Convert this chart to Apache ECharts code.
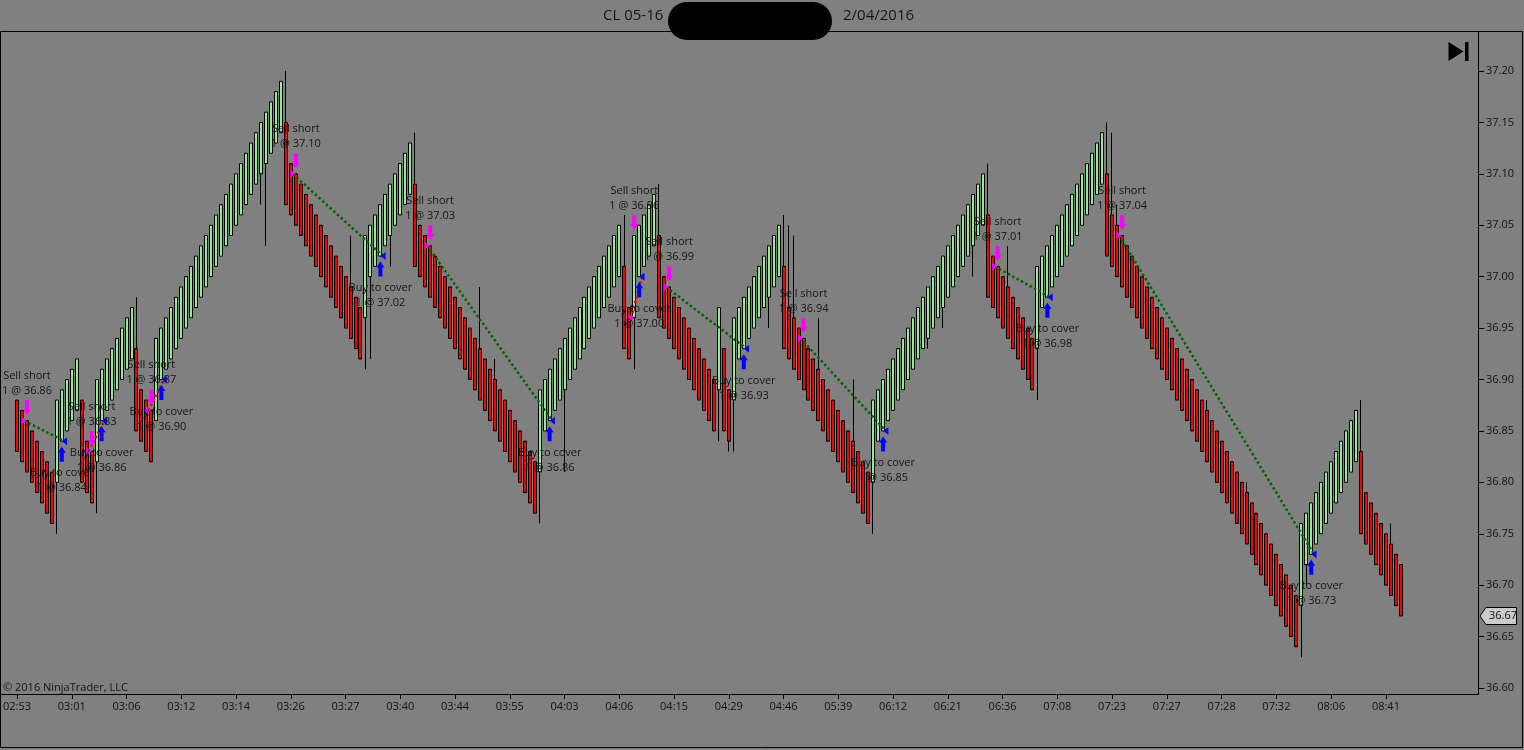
<!DOCTYPE html>
<html>
<head>
<meta charset="utf-8">
<script src="https://cdn.jsdelivr.net/npm/echarts@6/dist/echarts.min.js"></script>
<style>
    html, body { margin: 0; padding: 0; background: #808080; }
    #chart { width: 1524px; height: 750px; }
</style>
</head>
<body>
<div id="chart"></div>
<script>
// time labels under the ticks (one every 11 bars)
var tickLabels = ['02:53', '03:01', '03:06', '03:12', '03:14', '03:26', '03:27', '03:40', '03:44', '03:55',
    '04:03', '04:06', '04:15', '04:29', '04:46', '05:39', '06:12', '06:21', '06:36', '07:08',
    '07:23', '07:27', '07:28', '07:32', '08:06', '08:41'];

// bar opens, one per brick
var opens = [
    36.88, 36.87, 36.86, 36.85, 36.84, 36.83, 36.82, 36.81,
    36.80, 36.84, 36.85, 36.86, 36.87,
    36.88, 36.84, 36.83,
    36.82, 36.86, 36.87, 36.88, 36.89, 36.90, 36.91, 36.92,
    36.93, 36.89, 36.88, 36.87,
    36.86, 36.90, 36.91, 36.92, 36.93, 36.94, 36.95, 36.96, 36.97, 36.98, 36.99, 37.00, 37.01, 37.02, 37.03, 37.04,
    37.05, 37.06, 37.07, 37.08, 37.09, 37.10, 37.11, 37.12, 37.13, 37.14,
    37.15, 37.11, 37.10, 37.09, 37.08, 37.07, 37.06, 37.05, 37.04, 37.03, 37.02, 37.01, 37.00, 36.99, 36.98, 36.97,
    36.96, 37.00, 37.01, 37.02, 37.03, 37.04, 37.05, 37.06, 37.07, 37.08,
    37.09, 37.05, 37.04, 37.03, 37.02, 37.01, 37.00, 36.99, 36.98, 36.97, 36.96, 36.95, 36.94, 36.93, 36.92, 36.91,
    36.90, 36.89, 36.88, 36.87, 36.86, 36.85, 36.84, 36.83, 36.82,
    36.81, 36.85, 36.86, 36.87, 36.88, 36.89, 36.90, 36.91, 36.92, 36.93, 36.94, 36.95, 36.96, 36.97, 36.98, 36.99, 37.00,
    37.01, 36.97,
    36.96, 37.00, 37.01, 37.02, 37.03,
    37.04, 37.00, 36.99, 36.98, 36.97, 36.96, 36.95, 36.94, 36.93, 36.92, 36.91, 36.90,
    36.89,
    36.93, 36.89,
    36.88, 36.92, 36.93, 36.94, 36.95, 36.96, 36.97, 36.98, 36.99, 37.00,
    37.01, 36.97, 36.96, 36.95, 36.94, 36.93, 36.92, 36.91, 36.90, 36.89, 36.88, 36.87, 36.86, 36.85, 36.84, 36.83, 36.82, 36.81,
    36.80, 36.84, 36.85, 36.86, 36.87, 36.88, 36.89, 36.90, 36.91, 36.92, 36.93, 36.94, 36.95, 36.96, 36.97, 36.98,
    36.99, 37.00, 37.01, 37.02, 37.03, 37.04, 37.05,
    37.06, 37.02, 37.01, 37.00, 36.99, 36.98, 36.97, 36.96, 36.95, 36.94,
    36.93, 36.97, 36.98, 36.99, 37.00, 37.01, 37.02, 37.03, 37.04, 37.05, 37.06, 37.07, 37.08, 37.09,
    37.10, 37.06, 37.05, 37.04, 37.03, 37.02, 37.01, 37.00, 36.99, 36.98, 36.97, 36.96, 36.95, 36.94, 36.93, 36.92,
    36.91, 36.90, 36.89, 36.88, 36.87, 36.86, 36.85, 36.84, 36.83, 36.82, 36.81, 36.80, 36.79, 36.78, 36.77, 36.76,
    36.75, 36.74, 36.73, 36.72, 36.71, 36.70, 36.69,
    36.68, 36.72, 36.73, 36.74, 36.75, 36.76, 36.77, 36.78, 36.79, 36.80, 36.81, 36.82,
    36.83, 36.79, 36.78, 36.77, 36.76, 36.75, 36.74, 36.73, 36.72
];

// bar closes
var closes = [
    36.83, 36.82, 36.81, 36.80, 36.79, 36.78, 36.77, 36.76,
    36.88, 36.89, 36.90, 36.91, 36.92,
    36.80, 36.79, 36.78,
    36.90, 36.91, 36.92, 36.93, 36.94, 36.95, 36.96, 36.97,
    36.85, 36.84, 36.83, 36.82,
    36.94, 36.95, 36.96, 36.97, 36.98, 36.99, 37.00, 37.01, 37.02, 37.03, 37.04, 37.05, 37.06, 37.07, 37.08, 37.09,
    37.10, 37.11, 37.12, 37.13, 37.14, 37.15, 37.16, 37.17, 37.18, 37.19,
    37.07, 37.06, 37.05, 37.04, 37.03, 37.02, 37.01, 37.00, 36.99, 36.98, 36.97, 36.96, 36.95, 36.94, 36.93, 36.92,
    37.04, 37.05, 37.06, 37.07, 37.08, 37.09, 37.10, 37.11, 37.12, 37.13,
    37.01, 37.00, 36.99, 36.98, 36.97, 36.96, 36.95, 36.94, 36.93, 36.92, 36.91, 36.90, 36.89, 36.88, 36.87, 36.86,
    36.85, 36.84, 36.83, 36.82, 36.81, 36.80, 36.79, 36.78, 36.77,
    36.89, 36.90, 36.91, 36.92, 36.93, 36.94, 36.95, 36.96, 36.97, 36.98, 36.99, 37.00, 37.01, 37.02, 37.03, 37.04, 37.05,
    36.93, 36.92,
    37.04, 37.05, 37.06, 37.07, 37.08,
    36.96, 36.95, 36.94, 36.93, 36.92, 36.91, 36.90, 36.89, 36.88, 36.87, 36.86, 36.85,
    36.97,
    36.85, 36.84,
    36.96, 36.97, 36.98, 36.99, 37.00, 37.01, 37.02, 37.03, 37.04, 37.05,
    36.93, 36.92, 36.91, 36.90, 36.89, 36.88, 36.87, 36.86, 36.85, 36.84, 36.83, 36.82, 36.81, 36.80, 36.79, 36.78, 36.77, 36.76,
    36.88, 36.89, 36.90, 36.91, 36.92, 36.93, 36.94, 36.95, 36.96, 36.97, 36.98, 36.99, 37.00, 37.01, 37.02, 37.03,
    37.04, 37.05, 37.06, 37.07, 37.08, 37.09, 37.10,
    36.98, 36.97, 36.96, 36.95, 36.94, 36.93, 36.92, 36.91, 36.90, 36.89,
    37.01, 37.02, 37.03, 37.04, 37.05, 37.06, 37.07, 37.08, 37.09, 37.10, 37.11, 37.12, 37.13, 37.14,
    37.02, 37.01, 37.00, 36.99, 36.98, 36.97, 36.96, 36.95, 36.94, 36.93, 36.92, 36.91, 36.90, 36.89, 36.88, 36.87,
    36.86, 36.85, 36.84, 36.83, 36.82, 36.81, 36.80, 36.79, 36.78, 36.77, 36.76, 36.75, 36.74, 36.73, 36.72, 36.71,
    36.70, 36.69, 36.68, 36.67, 36.66, 36.65, 36.64,
    36.76, 36.77, 36.78, 36.79, 36.80, 36.81, 36.82, 36.83, 36.84, 36.85, 36.86, 36.87,
    36.75, 36.74, 36.73, 36.72, 36.71, 36.70, 36.69, 36.68, 36.67
];

// wick extremes that go past the body: [bar, low, high]
var wicks = [
    [8, 36.75, null], [16, 36.77, null], [24, null, 36.98], [49, 37.07, null], [50, 37.03, null],
    [54, null, 37.20], [67, null, 37.04], [70, 36.91, null], [71, 36.92, null], [75, 37.01, null],
    [80, null, 37.14], [93, null, 36.99], [96, null, 36.92], [105, 36.76, null], [110, 36.81, null],
    [122, null, 37.06], [124, 36.91, null], [129, null, 37.09], [141, 36.84, null], [143, 36.83, null],
    [144, 36.83, null], [151, 36.95, null], [154, null, 37.06], [155, null, 37.05], [156, null, 37.04],
    [161, null, 36.96], [168, null, 36.90], [172, 36.75, null], [183, 36.93, null], [186, 36.95, null],
    [192, 37.00, null], [195, null, 37.11], [199, null, 37.03], [205, 36.88, null], [219, null, 37.15],
    [220, null, 37.14], [221, null, 37.07], [239, null, 36.88], [247, null, 36.80], [258, 36.63, null],
    [259, 36.70, null], [270, null, 36.88], [276, null, 36.76]
];

// trades: sell short entry and buy to cover exit
var entryBar = [2, 15, 27, 56, 83, 124, 131, 158, 197, 222];
var entryPrice = [36.86, 36.83, 36.87, 37.10, 37.03, 36.96, 36.99, 36.94, 37.01, 37.04];
var exitBar = [9, 17, 29, 73, 107, 125, 146, 174, 207, 260];
var exitPrice = [36.84, 36.86, 36.90, 37.02, 36.86, 37.00, 36.93, 36.85, 36.98, 36.73];

var FONT = '"Open Sans", "Noto Sans", sans-serif';
var SLOTS = 294;

var chart = echarts.init(document.getElementById('chart'));

var lows = [];
var highs = [];
for (var i = 0; i < closes.length; i++) {
    lows.push(Math.min(opens[i], closes[i]));
    highs.push(Math.max(opens[i], closes[i]));
}
wicks.forEach(function (w) {
    if (w[1] !== null) lows[w[0]] = w[1];
    if (w[2] !== null) highs[w[0]] = w[2];
});

var candles = [];
for (var j = 0; j < closes.length; j++) {
    candles.push([opens[j], closes[j], lows[j], highs[j]]);
}

var categories = [];
for (var k = 0; k < SLOTS; k++) categories.push(String(k));

function tickOn(index) {
    return index % 11 === 0 && index / 11 < tickLabels.length;
}

var series = [{
    type: 'candlestick',
    data: candles,
    barWidth: 3.5,
    z: 2,
    itemStyle: {
        color: '#90ee90',
        color0: '#ff0000',
        borderColor: '#000000',
        borderColor0: '#000000',
        borderWidth: 1
    }
}];

var entryTri = [], exitTri = [], sellArrows = [], buyArrows = [];
for (var t = 0; t < entryBar.length; t++) {
    var win = exitPrice[t] < entryPrice[t];
    series.push({
        type: 'line',
        xAxisIndex: 1,
        symbol: 'none',
        silent: true,
        z: 3,
        data: [[entryBar[t] - 0.6, entryPrice[t]], [exitBar[t] + 0.55, exitPrice[t]]],
        lineStyle: { color: win ? '#006400' : '#ff0000', width: 2.5, type: [2.5, 2.5] }
    });
    entryTri.push([entryBar[t] - 0.6, entryPrice[t]]);
    exitTri.push([exitBar[t] + 0.55, exitPrice[t]]);
    sellArrows.push({ value: [entryBar[t], highs[entryBar[t]]], txt: 'Sell short\n1 @ ' + entryPrice[t].toFixed(2) });
    buyArrows.push({ value: [exitBar[t], lows[exitBar[t]]], txt: 'Buy to cover\n1 @ ' + exitPrice[t].toFixed(2) });
}

var labelStyle = { color: '#151515', fontSize: 11, lineHeight: 15, fontFamily: FONT, align: 'center' };

series.push({
    type: 'scatter', xAxisIndex: 1, z: 4, silent: true,
    symbol: 'triangle', symbolSize: [8, 5], symbolRotate: -90,
    itemStyle: { color: '#ff00ff', opacity: 1 },
    data: entryTri
});
series.push({
    type: 'scatter', xAxisIndex: 1, z: 4, silent: true,
    symbol: 'triangle', symbolSize: [8, 5], symbolRotate: 90,
    itemStyle: { color: '#0000ff', opacity: 1 },
    data: exitTri
});
series.push({
    type: 'scatter', xAxisIndex: 1, z: 5, silent: true,
    symbol: 'path://M2,0 L6,0 L6,9 L8,9 L4,15 L0,9 L2,9 Z', symbolSize: [8, 15], symbolOffset: [0, -13],
    itemStyle: { color: '#ff00ff', opacity: 1 },
    label: Object.assign({ show: true, position: 'top', distance: 2, formatter: function (p) { return p.data.txt; } }, labelStyle),
    data: sellArrows
});
series.push({
    type: 'scatter', xAxisIndex: 1, z: 5, silent: true,
    symbol: 'path://M4,0 L8,6 L6,6 L6,15 L2,15 L2,6 L0,6 Z', symbolSize: [8, 15], symbolOffset: [0, 13],
    itemStyle: { color: '#0000ff', opacity: 1 },
    label: Object.assign({ show: true, position: 'bottom', distance: 4, formatter: function (p) { return p.data.txt; } }, labelStyle),
    data: buyArrows
});

var option = {
    backgroundColor: '#808080',
    animation: false,
    grid: { left: 8.5, right: 46, top: 71, bottom: 62 },
    xAxis: [
        {
            type: 'category',
            data: categories,
            boundaryGap: true,
            offset: 6,
            axisLine: { show: false, onZero: false },
            axisTick: { show: true, interval: tickOn, alignWithLabel: true, length: 5, lineStyle: { color: '#000000' } },
            axisLabel: {
                interval: tickOn,
                margin: 7,
                color: '#121212',
                fontSize: 11,
                fontFamily: FONT,
                formatter: function (v, idx) { return tickLabels[idx / 11] || ''; }
            },
            splitLine: { show: false }
        },
        { type: 'value', min: -0.5, max: SLOTS - 0.5, show: false }
    ],
    yAxis: {
        type: 'value',
        position: 'right',
        min: 36.60,
        max: 37.20,
        interval: 0.05,
        axisLine: { show: false, onZero: false },
        axisTick: { show: true, length: 6, lineStyle: { color: '#000000' } },
        axisLabel: {
            margin: 8,
            color: '#121212',
            fontSize: 11,
            fontFamily: FONT,
            formatter: function (v) { return v.toFixed(2); }
        },
        splitLine: { show: false }
    },
    series: series
};
chart.setOption(option);

// frame, title, icon and last price box
var lastPrice = closes[closes.length - 1];
var py = chart.convertToPixel({ yAxisIndex: 0 }, lastPrice);

chart.setOption({
    graphic: [
        { type: 'rect', shape: { x: 0.5, y: 31.5, width: 1522, height: 716 }, style: { fill: null, stroke: '#000', lineWidth: 1 }, silent: true },
        { type: 'line', shape: { x1: 1478.5, y1: 31, x2: 1478.5, y2: 695 }, style: { stroke: '#000', lineWidth: 1 }, silent: true },
        { type: 'line', shape: { x1: 0, y1: 694.5, x2: 1479, y2: 694.5 }, style: { stroke: '#000', lineWidth: 1 }, silent: true },
        { type: 'text', style: { text: 'CL 05-16', x: 603, y: 16, font: '15px ' + FONT, fill: '#161616', textVerticalAlign: 'middle' }, silent: true },
        { type: 'rect', shape: { x: 668, y: 2, width: 164, height: 38, r: 19 }, style: { fill: '#000' }, silent: true },
        { type: 'text', style: { text: '2/04/2016', x: 843, y: 16, font: '15px ' + FONT, fill: '#161616', textVerticalAlign: 'middle' }, silent: true },
        { type: 'text', style: { text: '\u00a9 2016 NinjaTrader, LLC', x: 3, y: 688, font: '11px ' + FONT, fill: '#151515', textVerticalAlign: 'middle' }, silent: true },
        { type: 'polygon', shape: { points: [[1448.5, 42], [1448.5, 61], [1463.5, 51.5]] }, style: { fill: '#000' }, silent: true },
        { type: 'rect', shape: { x: 1465, y: 42, width: 3.5, height: 19 }, style: { fill: '#000' }, silent: true },
        {
            type: 'polygon',
            shape: { points: [[1480, py], [1486, py - 8.5], [1516.5, py - 8.5], [1516.5, py + 8.5], [1486, py + 8.5]] },
            style: { fill: '#cccccc', stroke: '#000', lineWidth: 1 },
            silent: true
        },
        { type: 'text', style: { text: lastPrice.toFixed(2), x: 1489, y: py, font: '11px ' + FONT, fill: '#111', textVerticalAlign: 'middle' }, silent: true }
    ]
});
</script>
</body>
</html>
